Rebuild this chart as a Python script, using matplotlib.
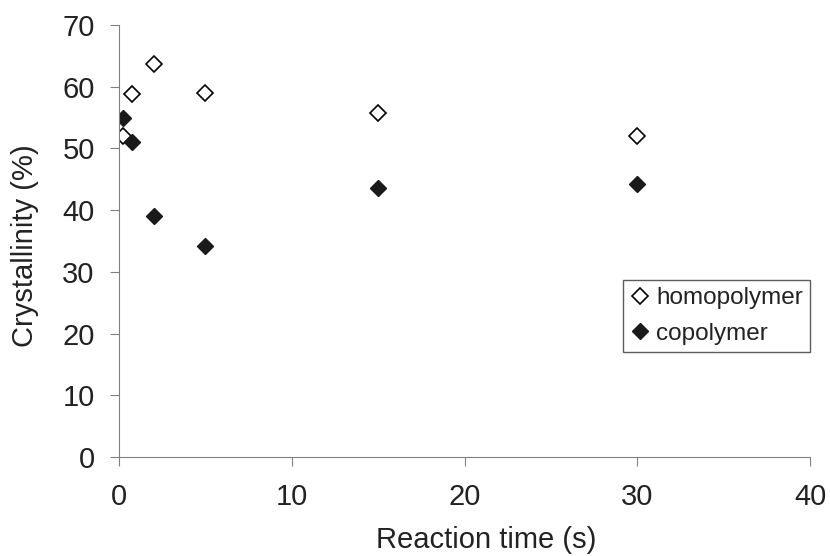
import matplotlib.pyplot as plt

plt.rcParams['font.family'] = ['Liberation Sans', 'DejaVu Sans']

reaction_time = [0.25, 0.75, 2, 5, 15, 30]
homopolymer = [52.0, 58.8, 63.7, 59.0, 55.7, 52.0]
copolymer = [55.0, 51.0, 39.0, 34.2, 43.6, 44.2]

fig = plt.figure(figsize=(8.3, 5.56), dpi=100)
ax = fig.add_axes([119 / 830, 1 - 457 / 556, 691 / 830, 432 / 556])

ax.plot(reaction_time, homopolymer, linestyle='none', marker='D', ms=8,
        mfc='white', mec='black', mew=1.2, label='homopolymer')
ax.plot(reaction_time, copolymer, linestyle='none', marker='D', ms=8,
        mfc='#1a1a1a', mec='#1a1a1a', label='copolymer')

ax.set_xlim(0, 40)
ax.set_ylim(0, 70)
ax.set_xticks(range(0, 41, 10))
ax.set_yticks(range(0, 71, 10))
ax.spines['top'].set_visible(False)
ax.spines['right'].set_visible(False)
for s in ['left', 'bottom']:
    ax.spines[s].set_color('#808080')
ax.tick_params(direction='out', length=6.5, color='#808080', labelsize=21,
               labelcolor='#222222')
ax.tick_params(axis='x', pad=12)
ax.tick_params(axis='y', pad=11)

# axis titles placed like the original
fig.text(486 / 830, 1 - 548 / 556, 'Reaction time (s)', fontsize=21,
         color='#222222', ha='center', va='baseline')
fig.text(39 / 830, 1 - 245.5 / 556, 'Crystallinity (%)', fontsize=21,
         color='#222222', ha='right', va='center', rotation=90)

leg = ax.legend(loc='upper left', bbox_to_anchor=(623 / 830, 1 - 280 / 556),
                bbox_transform=fig.transFigure, borderaxespad=0, fontsize=17.5,
                frameon=True, fancybox=False, edgecolor='#333333',
                handletextpad=0.26, borderpad=0.3, labelspacing=0.55,
                handlelength=0.8)
leg.get_frame().set_linewidth(1.0)
for t in leg.get_texts():
    t.set_color('#222222')

fig.savefig('out.png', dpi=100)
